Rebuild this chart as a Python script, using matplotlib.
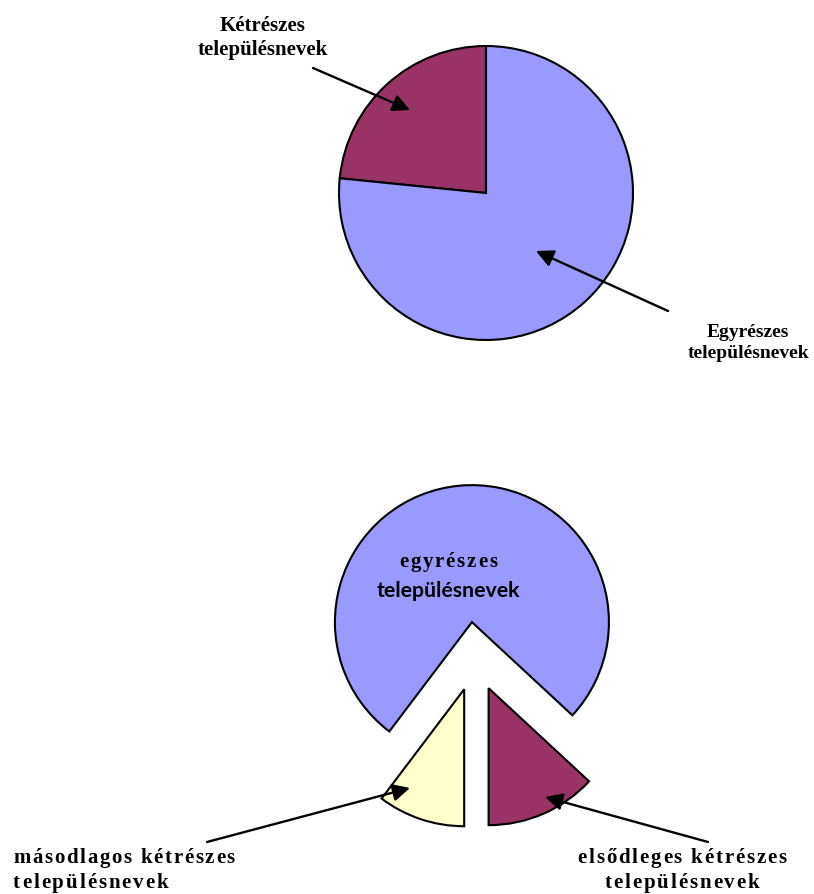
import matplotlib
matplotlib.use("Agg")
import matplotlib.pyplot as plt
from matplotlib.font_manager import FontProperties

# shares of place names (percent)
top_labels = ["Kétrészes\ntelepülésnevek", "Egyrészes\ntelepülésnevek"]
top_values = [23.4, 76.6]
top_colors = ["#993366", "#9999FF"]

bottom_labels = ["elsődleges kétrészes", "egyrészes", "másodlagos kétrészes"]
bottom_values = [13.1, 76.6, 10.3]
bottom_colors = ["#993366", "#9999FF", "#FFFFCC"]

W, H = 814, 894
fig = plt.figure(figsize=(W / 100, H / 100), dpi=100)
ax = fig.add_axes([0, 0, 1, 1])

wedge_style = dict(edgecolor="black", linewidth=1.5)

# upper pie: one- vs two-part names
ax.pie(top_values, colors=top_colors, startangle=90, counterclock=True,
       center=(486, H - 193), radius=147, wedgeprops=wedge_style)

# lower pie: two-part names split into primary / secondary
# (explode is in data units here, i.e. pixels)
ax.pie(bottom_values, colors=bottom_colors, startangle=-90, counterclock=True,
       center=(475, H - 657), radius=137, explode=[34, 35, 34],
       wedgeprops=wedge_style)

ax.set_xlim(0, W)
ax.set_ylim(0, H)
ax.set_aspect("auto")
ax.axis("off")

serif = FontProperties(family="Liberation Serif", weight="bold", size=15)
renderer = fig.canvas.get_renderer()


def spaced_text(x, y, s, prop, gap, ha="center"):
    # letter-spaced text, one glyph at a time
    widths = [renderer.get_text_width_height_descent(c, prop, ismath=False)[0]
              for c in s]
    total = sum(widths) + gap * (len(s) - 1)
    cx = x - total / 2 if ha == "center" else x
    for c, w in zip(s, widths):
        ax.text(cx, y, c, fontproperties=prop, ha="left", va="center")
        cx += w + gap


def arrow(tail, tip):
    ax.annotate("", xy=(tip[0], H - tip[1]), xytext=(tail[0], H - tail[1]),
                arrowprops=dict(arrowstyle="-|>", color="black", lw=1.7,
                                mutation_scale=26, shrinkA=0, shrinkB=0))


# upper labels
ax.text(263, H - 38, top_labels[0], fontproperties=serif, ha="center",
        va="center", linespacing=1.25)
arrow((313, 68), (410, 110))
serif14 = FontProperties(family="Liberation Serif", weight="bold", size=14)
ax.text(748, H - 343, top_labels[1], fontproperties=serif14, ha="center",
        va="center", linespacing=1.3)
arrow((668, 311), (536, 251))

# lower labels
spaced_text(448, H - 562, bottom_labels[1], serif, 1.8)
ax.text(448, H - 591, "településnevek", family="Lato", weight="bold",
        fontsize=15.3, ha="center", va="center")

spaced_text(13, H - 858, bottom_labels[2], serif, 1.7, ha="left")
spaced_text(13, H - 883, "településnevek", serif, 1.9, ha="left")
arrow((207, 842), (410, 788))

spaced_text(682, H - 858, bottom_labels[0], serif, 1.8)
spaced_text(682, H - 883, "településnevek", serif, 1.9)
arrow((708, 842), (545, 797))

fig.savefig("out.png", dpi=100)
